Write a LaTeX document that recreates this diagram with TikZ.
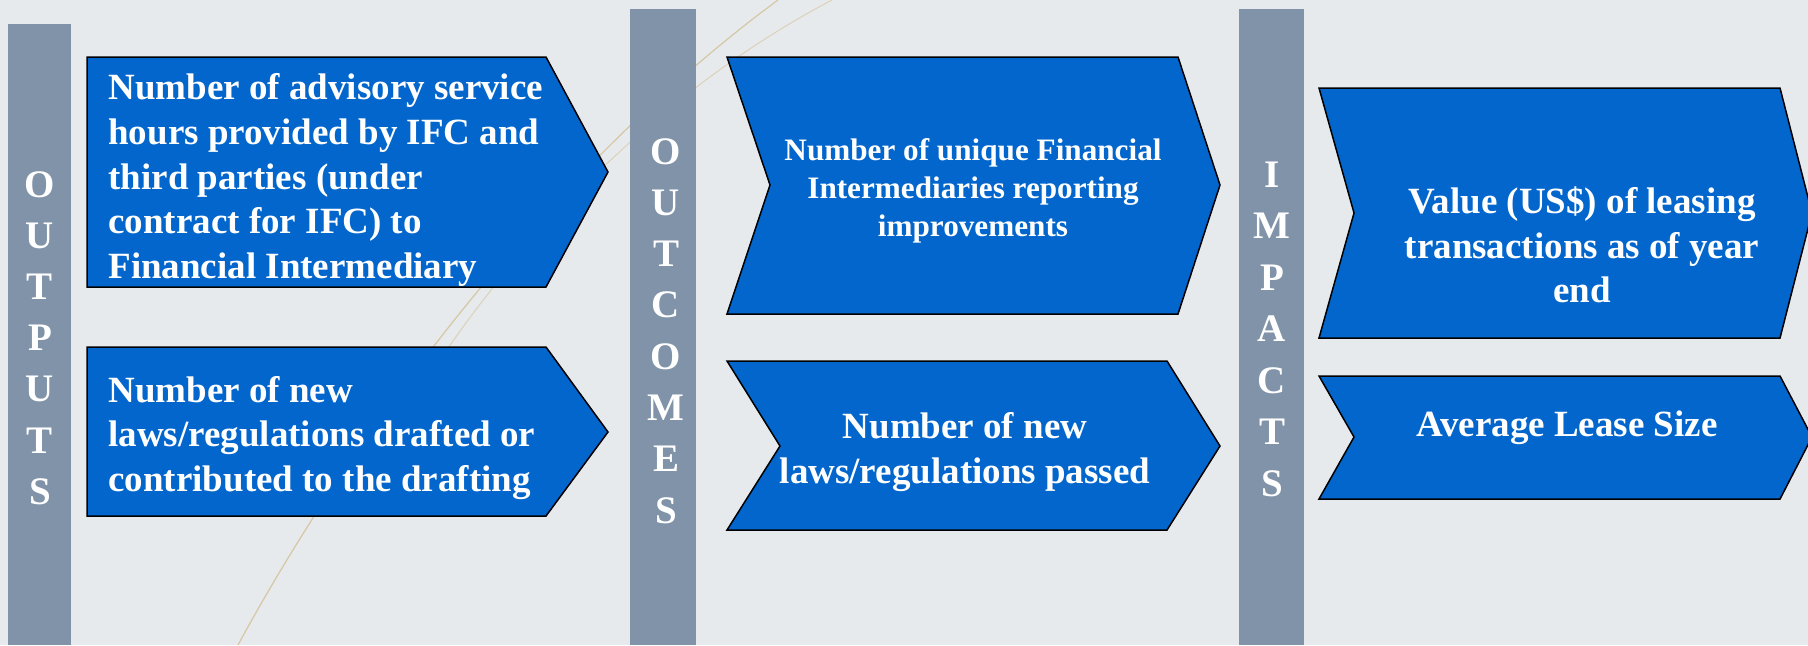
\documentclass[tikz,border=0pt]{standalone}
\usepackage{fontspec}
\setmainfont{Liberation Serif}
\usetikzlibrary{positioning}

\definecolor{bgcol}{HTML}{E7EAED}
\definecolor{barcol}{HTML}{8093A8}
\definecolor{boxblue}{HTML}{0366CC}
\definecolor{swirl}{HTML}{D6C7A4}

\begin{document}
\begin{tikzpicture}[
  x=0.5pt, y=-0.5pt,
  bar/.style={fill=barcol, draw=none},
  chevron/.style={fill=boxblue, draw=black, line width=.75pt, line join=miter},
  boxtext/.style={text=white, inner sep=0pt, font=\bfseries\fontsize{18.5}{22.3}\selectfont},
  smalltext/.style={text=white, inner sep=0pt, font=\bfseries\fontsize{15.6}{19}\selectfont},
  letter/.style={text=white, inner sep=0pt, anchor=base, font=\bfseries\fontsize{19.5}{24}\selectfont}
]
  \clip (0,0) rectangle (1808,645);
  \fill[bgcol] (0,0) rectangle (1808,645);

  % Swirl lines
  \draw[swirl, line width=.6pt] (238,645) .. controls (360,420) and (560,160) .. (778,0);
  \draw[swirl, line width=.5pt, opacity=.7] (440,360) .. controls (520,240) and (660,90) .. (832,0);

  % Columns
  \fill[bar] (8,24) rectangle (71,645);
  \fill[bar] (630,9) rectangle (696,645);
  \fill[bar] (1239,9) rectangle (1304,645);

  % Column labels
  \foreach \ch [count=\i] in {O,U,T,P,U,T,S}
    \node[letter] (outputs-\i) at (40,197.5+51.1*\i-51.1) {\ch};
  \foreach \ch [count=\i] in {O,U,T,C,O,M,E,S}
    \node[letter] (outcomes-\i) at (666,164+51.3*\i-51.3) {\ch};
  \foreach \ch [count=\i] in {I,M,P,A,C,T,S}
    \node[letter] (impacts-\i) at (1272,187+51.5*\i-51.5) {\ch};

  % Outputs
  \draw[chevron] (87,57) -- (546,57) -- (608,172) -- (546,287) -- (87,287) -- cycle;
  \draw[chevron] (87,347) -- (546,347) -- (608,432) -- (546,516) -- (87,516) -- cycle;
  \node[boxtext, anchor=west, align=left] (advisory) at (108,180)
    {Number of advisory service\\hours provided by IFC and\\third parties (under\\contract for IFC) to\\Financial Intermediary};
  \node[boxtext, anchor=west, align=left] (drafted) at (108,438)
    {Number of new\\laws/regulations drafted or\\contributed to the drafting};

  % Outcomes
  \draw[chevron] (727,57) -- (1178,57) -- (1220,185) -- (1178,314) -- (727,314) -- (770,185) -- cycle;
  \draw[chevron] (727,361) -- (1167,361) -- (1220,446) -- (1167,530) -- (727,530) -- (780,446) -- cycle;
  \node[smalltext, align=center] (unique) at (973,191)
    {Number of unique Financial\\Intermediaries reporting\\improvements};
  \node[boxtext, align=center] (passed) at (965,452)
    {Number of new\\laws/regulations passed};

  % Impacts
  \draw[chevron] (1319,88) -- (1780,88) -- (1812,213) -- (1780,338) -- (1319,338) -- (1354,213) -- cycle;
  \draw[chevron] (1319,376) -- (1780,376) -- (1812,437) -- (1780,499) -- (1319,499) -- (1354,437) -- cycle;
  \node[boxtext, align=center] (leasing) at (1582,245)
    {Value (US\$) of leasing\\transactions as of year\\end};
  \node[boxtext, align=center] (leasesize) at (1567,428)
    {Average Lease Size};
\end{tikzpicture}
\end{document}
